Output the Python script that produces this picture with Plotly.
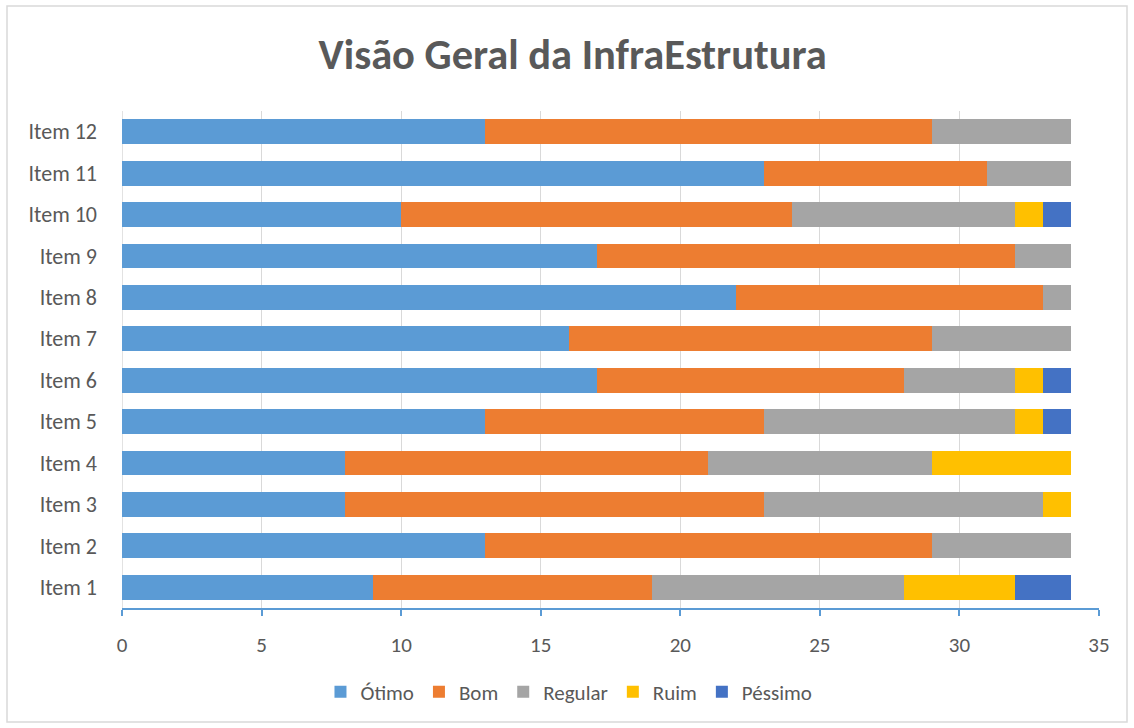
import plotly.graph_objects as go

categories = ["Item 1", "Item 2", "Item 3", "Item 4", "Item 5", "Item 6",
              "Item 7", "Item 8", "Item 9", "Item 10", "Item 11", "Item 12"]
otimo =   [9, 13, 8, 8, 13, 17, 16, 22, 17, 10, 23, 13]
bom =     [10, 16, 15, 13, 10, 11, 13, 11, 15, 14, 8, 16]
regular = [9, 5, 10, 8, 9, 4, 5, 1, 2, 8, 3, 5]
ruim =    [4, 0, 1, 5, 1, 1, 0, 0, 0, 1, 0, 0]
pessimo = [2, 0, 0, 0, 1, 1, 0, 0, 0, 1, 0, 0]

series = [
    ("Ótimo", otimo, "#5B9BD5"),
    ("Bom", bom, "#ED7D31"),
    ("Regular", regular, "#A5A5A5"),
    ("Ruim", ruim, "#FFC000"),
    ("Péssimo", pessimo, "#4472C4"),
]

FONT = "Calibri, Carlito, Lato, sans-serif"
TXT = "#595959"

fig = go.Figure()
for name, vals, color in series:
    fig.add_trace(go.Bar(
        y=categories, x=vals, name=name, orientation="h",
        marker=dict(color=color, line=dict(width=0)),
        hovertemplate="%{y}: %{x}<extra>" + name + "</extra>",
    ))

fig.update_layout(
    barmode="stack",
    bargap=0.4,
    width=1134, height=728,
    margin=dict(l=122, r=35, t=111, b=120),
    paper_bgcolor="white", plot_bgcolor="white",
    font=dict(family=FONT, color=TXT, size=21),
    title=dict(text="<b>Visão Geral da InfraEstrutura</b>",
               x=0.505, xanchor="center", y=0.925, yanchor="middle",
               font=dict(family=FONT, size=42.5, color=TXT)),
    legend=dict(orientation="h", x=0.4575, xanchor="center", y=-0.169, yanchor="middle",
                font=dict(size=21, color=TXT), traceorder="normal",
                itemclick=False),
    xaxis=dict(range=[0, 35], dtick=5, tick0=0,
               showgrid=True, gridcolor="#D9D9D9", gridwidth=1.2,
               zeroline=False,
               showline=True, linecolor="#5B9BD5", linewidth=1.5,
               ticks="outside", ticklen=6, tickcolor="#5B9BD5", tickwidth=1.5,
               ticklabelstandoff=11,
               tickfont=dict(size=21, color=TXT)),
    yaxis=dict(categoryorder="array", categoryarray=categories,
               showgrid=False, zeroline=False, showline=False,
               ticks="", ticklabelstandoff=24,
               tickfont=dict(size=22, color=TXT)),
    shapes=[
        dict(type="rect", xref="paper", yref="paper",
             x0=(7 - 122) / 977, x1=(1127 - 122) / 977,
             y0=(608 - 722) / 497, y1=(608 - 6) / 497,
             line=dict(color="#D9D9D9", width=1.5), layer="below"),
        dict(type="line", xref="x", yref="paper", x0=0, x1=0, y0=0, y1=1,
             line=dict(color="#D9D9D9", width=1.5), layer="below"),
    ],
)

fig.write_html("out.html", config={"displayModeBar": False},
               post_script="document.body.style.margin='0';document.body.style.overflow='hidden';")
